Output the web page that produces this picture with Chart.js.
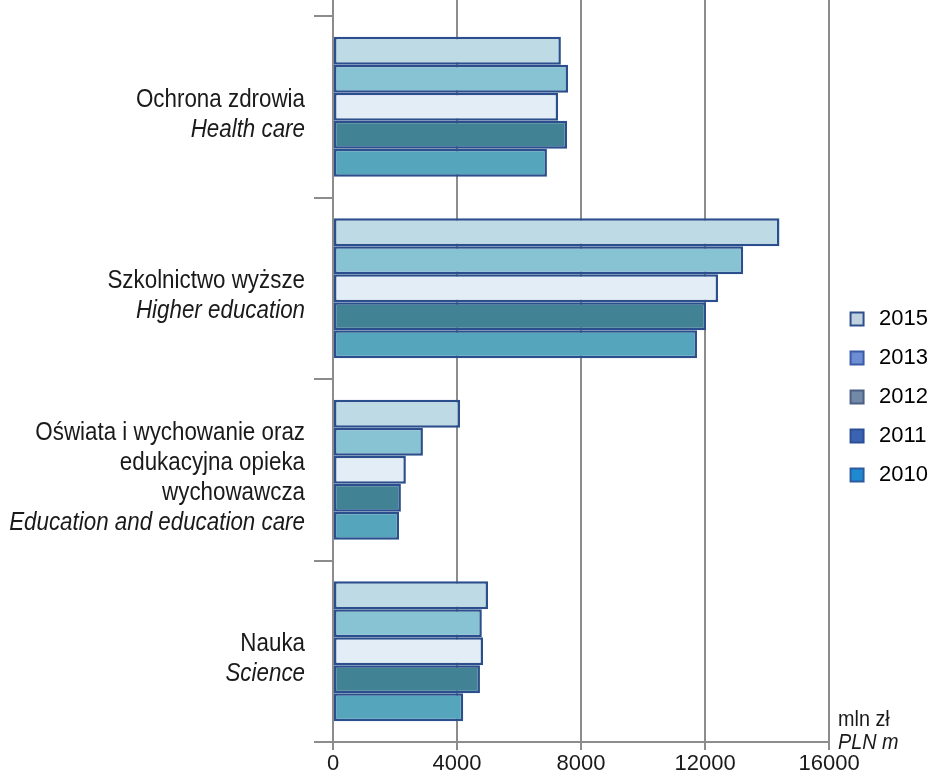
<!DOCTYPE html>
<html>
<head>
<meta charset="utf-8">
<script src="https://cdn.jsdelivr.net/npm/chart.js@4.4.0/dist/chart.umd.min.js"></script>
<style>
  html, body { margin: 0; padding: 0; background: #fff; }
  #wrap { width: 934px; height: 778px; position: relative; }
</style>
</head>
<body>
<div id="wrap"><canvas id="myChart" width="934" height="778"></canvas></div>
<script>
// categories, top to bottom
const categories = ['Ochrona zdrowia', 'Szkolnictwo wyższe', 'Oświata i wychowanie', 'Nauka'];
const catLabelsPl = [
  ['Ochrona zdrowia'],
  ['Szkolnictwo wyższe'],
  ['Oświata i wychowanie oraz', 'edukacyjna opieka', 'wychowawcza'],
  ['Nauka']
];
const catLabelsEn = ['Health care', 'Higher education', 'Education and education care', 'Science'];

const years = ['2015', '2013', '2012', '2011', '2010'];
// mln zł
const v2015 = [7350, 14400, 4100, 5000];
const v2013 = [7580, 13230, 2900, 4800];
const v2012 = [7260, 12420, 2350, 4840];
const v2011 = [7550, 12030, 2190, 4740];
const v2010 = [6900, 11740, 2130, 4200];

const xTicks = [0, 4000, 8000, 12000, 16000];

const barColors = ['#bddae5', '#88c3d4', '#e3edf5', '#418294', '#55a6bd'];
// legend swatches in the original don't match the bars
const legendFill = ['#c0d2df', '#6d8ed2', '#7289a8', '#3a64b3', '#1e8bd0'];
const legendBorder = ['#2e4e8e', '#3a5ba8', '#4a6085', '#2c4e96', '#2d5ba0'];

const FONT = '"Liberation Sans", Arial, sans-serif';
const GRID = '#8c8c8c';
const TEXT = '#1a1a1a';

const allValues = [v2015, v2013, v2012, v2011, v2010];

// no narrow font installed, so squeeze the text a bit
function narrowText(ctx, txt, x, y, sx) {
  ctx.save();
  ctx.translate(x, y);
  ctx.scale(sx, 1);
  ctx.fillText(txt, 0, 0);
  ctx.restore();
}

// labels on the left, mixed upright / italic lines
const categoryText = {
  id: 'categoryText',
  afterDraw(chart) {
    const ctx = chart.ctx;
    const yScale = chart.scales.y;
    const lh = 30;
    ctx.save();
    ctx.fillStyle = TEXT;
    ctx.textAlign = 'right';
    ctx.textBaseline = 'middle';
    for (let i = 0; i < categories.length; i++) {
      const lines = catLabelsPl[i].map(t => ({ t: t, it: false }));
      lines.push({ t: catLabelsEn[i], it: true });
      const cy = yScale.getPixelForValue(i) + 8;
      let y = cy - (lines.length - 1) * lh / 2;
      for (const l of lines) {
        ctx.font = (l.it ? 'italic ' : '') + '26px ' + FONT;
        narrowText(ctx, l.t, 305, y, 0.86);
        y += lh;
      }
    }
    // unit
    ctx.textAlign = 'left';
    ctx.font = '22px ' + FONT;
    narrowText(ctx, 'mln zł', 838, 720, 0.9);
    ctx.font = 'italic 22px ' + FONT;
    narrowText(ctx, 'PLN m', 838, 743, 0.9);
    ctx.restore();
  },
  beforeDatasetsDraw(chart) {
    // grid lines run up past the plot top
    const ctx = chart.ctx;
    const xs = chart.scales.x;
    const top = chart.chartArea.top;
    ctx.save();
    ctx.strokeStyle = GRID;
    ctx.lineWidth = 2;
    for (const t of xTicks) {
      const x = Math.round(xs.getPixelForValue(t));
      ctx.beginPath();
      ctx.moveTo(x, 0);
      ctx.lineTo(x, top);
      ctx.stroke();
    }
    ctx.restore();
  }
};

const ctx = document.getElementById('myChart').getContext('2d');
const myChart = new Chart(ctx, {
  type: 'bar',
  data: {
    labels: categories,
    datasets: years.map((y, i) => ({
      label: y,
      data: allValues[i],
      backgroundColor: barColors[i],
      borderColor: '#2b4e8c',
      borderWidth: 2.5,
      borderSkipped: false,
      categoryPercentage: 0.77,
      barPercentage: 1.0
    }))
  },
  options: {
    indexAxis: 'y',
    responsive: false,
    animation: false,
    devicePixelRatio: 1,
    layout: { padding: { top: 16, right: -4, left: 0, bottom: 0 } },
    plugins: {
      title: { display: false },
      tooltip: { enabled: false },
      legend: {
        position: 'right',
        align: 'center',
        labels: {
          usePointStyle: true,
          pointStyle: 'rect',
          boxWidth: 22,
          boxHeight: 13,
          padding: 17,
          color: TEXT,
          font: { family: FONT, size: 22 },
          generateLabels: function (chart) {
            return years.map((y, i) => ({
              text: y,
              fillStyle: legendFill[i],
              strokeStyle: legendBorder[i],
              lineWidth: 2,
              pointStyle: 'rect',
              hidden: false,
              datasetIndex: i
            }));
          }
        }
      }
    },
    scales: {
      x: {
        min: 0,
        max: 16000,
        afterBuildTicks: function (scale) {
          scale.ticks = xTicks.map(v => ({ value: v }));
        },
        afterFit: function (scale) { scale.height = 36; },
        grid: { color: GRID, lineWidth: 2, tickLength: 8, drawTicks: true },
        border: { color: GRID, width: 2 },
        ticks: {
          color: TEXT,
          padding: 1,
          maxRotation: 0,
          font: { family: FONT, size: 22 },
          callback: function (v) { return String(v); }
        }
      },
      y: {
        afterFit: function (scale) { scale.width = 333; },
        grid: {
          offset: true,
          drawOnChartArea: false,
          drawTicks: true,
          tickLength: 19,
          color: GRID,
          lineWidth: 2
        },
        border: { color: GRID, width: 2 },
        ticks: { display: false }
      }
    }
  },
  plugins: [categoryText]
});
</script>
</body>
</html>
